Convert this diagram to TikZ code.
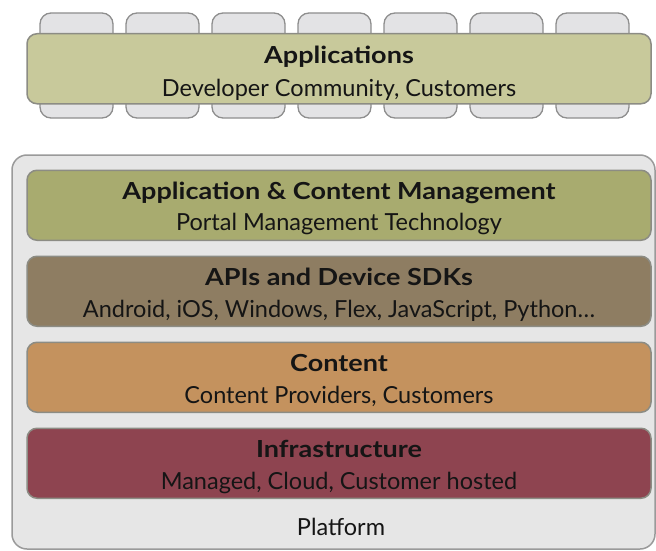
\documentclass[tikz,border=0pt]{standalone}
\usepackage{fontspec}
\setmainfont{Lato}
\newfontfamily\ttlfont{Lato}[FakeStretch=1.15]
\definecolor{tabfill}{HTML}{E3E3E5}
\definecolor{tabline}{HTML}{8E8E8E}
\definecolor{appcol}{HTML}{C8C99B}
\definecolor{mgmtcol}{HTML}{A8AB6F}
\definecolor{apicol}{HTML}{8E7D62}
\definecolor{contcol}{HTML}{C4925E}
\definecolor{infcol}{HTML}{8E4450}
\definecolor{platfill}{HTML}{E6E6E6}
\definecolor{platline}{HTML}{9A9A9A}
\definecolor{barline}{HTML}{8C8C84}
\definecolor{txt}{HTML}{151515}
\tikzset{
  tabbox/.style={draw=tabline, line width=1.3pt, fill=tabfill, rounded corners=11pt,
    minimum width=73pt, minimum height=105pt, inner sep=0pt},
  layerbar/.style={draw=barline, line width=1.5pt, rounded corners=10pt,
    minimum width=624pt, minimum height=70pt, inner sep=0pt, anchor=north},
  ttl/.style={anchor=base, inner sep=0pt, text=txt, font=\ttlfont\bfseries\fontsize{23.5}{26}\selectfont},
  sub/.style={anchor=base, inner sep=0pt, text=txt, font=\fontsize{23.5}{26}\selectfont},
}
\begin{document}
\begin{tikzpicture}[x=1pt,y=-1pt]
\useasboundingbox (0,0) rectangle (656,551);
% tabs
\foreach \i/\cx in {1/76.5,2/162.5,3/248.5,4/334.5,5/420.5,6/506.5,7/592.5}{
  \node[tabbox] (tab\i) at (\cx,65.5) {};
}
\node[layerbar, fill=appcol] (apps) at (339,33) {};
\node[ttl] (appsT) at (339,63.5) {Applications};
\node[sub] (appsS) at (339,96.5) {Developer Community, Customers};
% platform
\draw[draw=platline, line width=1.5pt, fill=platfill, rounded corners=15pt]
  (12,155) rectangle (655,549);
\node[layerbar, fill=mgmtcol] (mgmt) at (339,169.5) {};
\node[ttl] (mgmtT) at (339,199) {Application \& Content Management};
\node[sub] (mgmtS) at (339,230.5) {Portal Management Technology};
\node[layerbar, fill=apicol] (apis) at (339,255.5) {};
\node[ttl] (apisT) at (339,285.5) {APIs and Device SDKs};
\node[sub] (apisS) at (339,317) {Android, iOS, Windows, Flex, JavaScript, Python…};
\node[layerbar, fill=contcol] (cont) at (339,341.5) {};
\node[ttl] (contT) at (339,371.5) {Content};
\node[sub] (contS) at (339,403) {Content Providers, Customers};
\node[layerbar, fill=infcol] (infra) at (339,427.5) {};
\node[ttl] (infraT) at (339,457.5) {Infrastructure};
\node[sub] (infraS) at (339,489) {Managed, Cloud, Customer hosted};
\node[sub] (plat) at (341,535) {Platform};
\end{tikzpicture}
\end{document}
